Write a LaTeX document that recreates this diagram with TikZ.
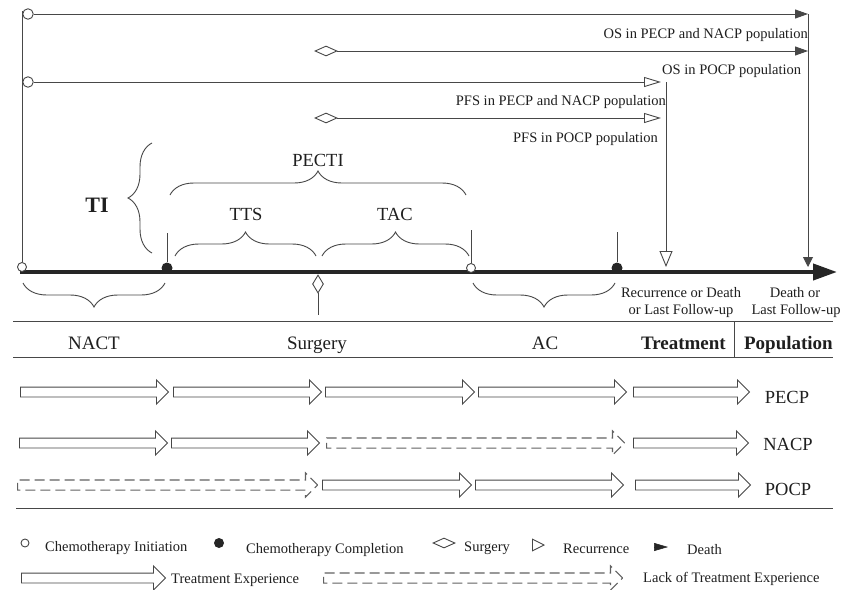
\documentclass[tikz,border=0pt]{standalone}
\usepackage{fontspec}
\setmainfont{Liberation Serif}
\usetikzlibrary{arrows.meta,shapes.geometric,shapes.arrows,decorations.pathreplacing}
\begin{document}
\begin{tikzpicture}[x=1pt,y=-1pt,
  ln/.style={draw=black!72, line width=0.9pt},
  sm/.style={font=\fontsize{14.5}{16}\selectfont, text=black!88, inner sep=0pt},
  md/.style={font=\fontsize{18.5}{20}\selectfont, text=black!88, inner sep=0pt},
  hd/.style={font=\fontsize{19}{21}\selectfont, text=black!88, inner sep=0pt},
  hdb/.style={font=\fontsize{19}{21}\selectfont\bfseries, text=black!88, inner sep=0pt},
  opencirc/.style={circle, draw=black!72, line width=0.9pt, fill=white, inner sep=0pt, minimum size=#1},
  fdot/.style={circle, fill=black!85, inner sep=0pt, minimum size=#1},
  diam/.style={diamond, draw=black!72, line width=0.9pt, fill=white, inner sep=0pt},
  filltip/.style={-{Triangle[length=13pt,width=9pt]}},
  opentip/.style={-{Triangle[open,length=17pt,width=10pt]}},
  brc/.style={ln, decorate, decoration={brace, amplitude=24pt}},
  barrow/.style={single arrow, draw=black!72, line width=0.9pt, fill=white,
    inner xsep=0pt, inner ysep=4.5pt, text height=0pt, text depth=0pt,
    single arrow head extend=7pt, minimum height=#1, anchor=tail},
  darrow/.style={barrow=#1, draw=black!62, line width=1.1pt, dash pattern=on 10pt off 5pt}
]
\fill[white] (0,0) rectangle (843,589);
\useasboundingbox (0,0) rectangle (843,589);

% ---------- top follow-up lines ----------
\node[opencirc=10.5pt] (c1) at (28,14) {};
\node[opencirc=10.5pt] (c2) at (28,82) {};
\node[diam, minimum width=22pt, minimum height=10pt] (d2) at (326,51) {};
\node[diam, minimum width=22pt, minimum height=10pt] (d4) at (326,118) {};
\coordinate (e1) at (808,14);
\coordinate (e2) at (808,51);
\coordinate (e3) at (661,82);
\coordinate (e4) at (661,118);
\coordinate (r3) at (666,82);
\coordinate (death) at (808,267);
\coordinate (recur) at (666,267);
\draw[ln, filltip] (c1.east) -- (e1);
\draw[ln, filltip] (d2.east) -- (e2);
\draw[ln, opentip] (c2.east) -- (e3);
\draw[ln, opentip] (d4.east) -- (e4);
\draw[ln, -{Triangle[length=10pt,width=10pt]}] (e1) -- (death);
\draw[ln, -{Triangle[open,length=16pt,width=13pt]}] (r3) -- (recur);

\node[sm, anchor=base east] (os1) at (808,38) {OS in PECP and NACP population};
\node[sm, anchor=base west] (os2) at (662,74) {OS in POCP population};
\node[sm, anchor=base east] (pfs1) at (666,105) {PFS in PECP and NACP population};
\node[sm, anchor=base east] (pfs2) at (658,142) {PFS in POCP population};

% ---------- braces above timeline ----------
\draw[brc] (170,195) -- (466,195);
\draw[brc] (175,256) -- (316,256);
\draw[brc] (322,256) -- (469,256);
\draw[brc] (152,253) -- (152,143);
\node[md, anchor=base] (pecti) at (318,166) {PECTI};
\node[md, anchor=base] (tts) at (246,220) {TTS};
\node[md, anchor=base] (tac) at (395,220) {TAC};
\node[font=\fontsize{22}{24}\selectfont\bfseries, text=black!88, inner sep=0pt, anchor=base] (ti) at (97,212) {TI};

% ---------- timeline ----------
\node[fdot=11pt] (k1) at (167,268) {};
\node[fdot=11pt] (k3) at (617,268) {};
\coordinate (t0) at (20,272);
\coordinate (t1) at (837,272);
\draw[draw=black!85, fill=black!85, line width=4pt, -{Triangle[length=24pt,width=16pt]}] (t0) -- (t1);
\node[opencirc=9pt] (k0) at (22,267) {};
\node[opencirc=9pt] (k2) at (471,268) {};
\node[diam, minimum width=11pt, minimum height=18pt] (sd) at (318,284) {};
\coordinate (k1t) at (167,233);
\coordinate (k2t) at (471,230);
\coordinate (k3t) at (617,232);
\coordinate (sdb) at (318,315);
\coordinate (v0) at (22,11);
\draw[ln] (v0) -- (k0.north);
\draw[ln] (k1t) -- (k1.north);
\draw[ln] (k2t) -- (k2.north);
\draw[ln] (k3t) -- (k3.north);
\draw[ln] (sd.south) -- (sdb);

% ---------- braces below timeline ----------
\draw[brc] (165,283) -- (23,283);
\draw[brc] (615,283) -- (473,283);
\node[sm, anchor=base] (rec1) at (681,297) {Recurrence or Death};
\node[sm, anchor=base] (rec2) at (681,314) {or Last Follow-up};
\node[sm, anchor=base] (dth1) at (795,297) {Death or};
\node[sm, anchor=base] (dth2) at (796,314) {Last Follow-up};

% ---------- table ----------
\coordinate (ra) at (13,321); \coordinate (rb) at (833,321);
\coordinate (rc) at (13,357); \coordinate (rd) at (833,357);
\coordinate (re) at (16,508); \coordinate (rf) at (833,508);
\coordinate (sa) at (734,321); \coordinate (sb) at (734,357);
\draw[ln] (ra) -- (rb);
\draw[ln] (rc) -- (rd);
\draw[ln] (re) -- (rf);
\draw[ln] (sa) -- (sb);
\node[hd, anchor=base] (h1) at (94,349) {NACT};
\node[hd, anchor=base] (h2) at (317,349) {Surgery};
\node[hd, anchor=base] (h3) at (545,349) {AC};
\node[hdb, anchor=base east] (h4) at (726,349) {Treatment};
\node[hdb, anchor=base east] (h5) at (833,349) {Population};

% row PECP
\node[barrow=148pt] (p1) at (20,392) {};
\node[barrow=148pt] (p2) at (173,392) {};
\node[barrow=149pt] (p3) at (325,392) {};
\node[barrow=148pt] (p4) at (478,392) {};
\node[barrow=116pt] (p5) at (633,392) {};
\node[md, anchor=base] (lp) at (787,403) {PECP};
% row NACP
\node[barrow=148pt] (n1) at (19,443) {};
\node[barrow=148pt] (n2) at (171,443) {};
\node[darrow=298pt] (n3) at (326,443) {};
\node[barrow=115pt] (n5) at (633,443) {};
\node[md, anchor=base] (ln) at (788,450) {NACP};
% row POCP
\node[darrow=300pt] (o1) at (17,485) {};
\node[barrow=149pt] (o2) at (322,485) {};
\node[barrow=148pt] (o3) at (475,485) {};
\node[barrow=115pt] (o4) at (635,485) {};
\node[md, anchor=base] (lo) at (788,495) {POCP};

% ---------- legend ----------
\node[opencirc=8pt] (lg1) at (25,543) {};
\node[sm, anchor=base west] (lt1) at (45,551) {Chemotherapy Initiation};
\node[fdot=10pt] (lg2) at (219,543) {};
\node[sm, anchor=base west] (lt2) at (246,553) {Chemotherapy Completion};
\node[diam, minimum width=22pt, minimum height=10pt] (lg3) at (444,543) {};
\node[sm, anchor=base west] (lt3) at (464,551) {Surgery};
\coordinate (lg4a) at (532,545); \coordinate (lg4b) at (545,545);
\draw[ln, -{Triangle[open,length=13pt,width=13pt]}] (lg4a) -- (lg4b);
\node[sm, anchor=base west] (lt4) at (563,553) {Recurrence};
\coordinate (lg5a) at (654,547); \coordinate (lg5b) at (668,547);
\draw[draw=black!85, line width=0.5pt, -{Triangle[length=14pt,width=8pt]}] (lg5a) -- (lg5b);
\node[sm, anchor=base west] (lt5) at (687,554) {Death};
\node[barrow=144pt] (lg6) at (21,578) {};
\node[sm, anchor=base west] (lt6) at (171,583) {Treatment Experience};
\node[darrow=299pt] (lg7) at (323,578) {};
\node[sm, anchor=base west] (lt7) at (643,582) {Lack of Treatment Experience};
\end{tikzpicture}
\end{document}
